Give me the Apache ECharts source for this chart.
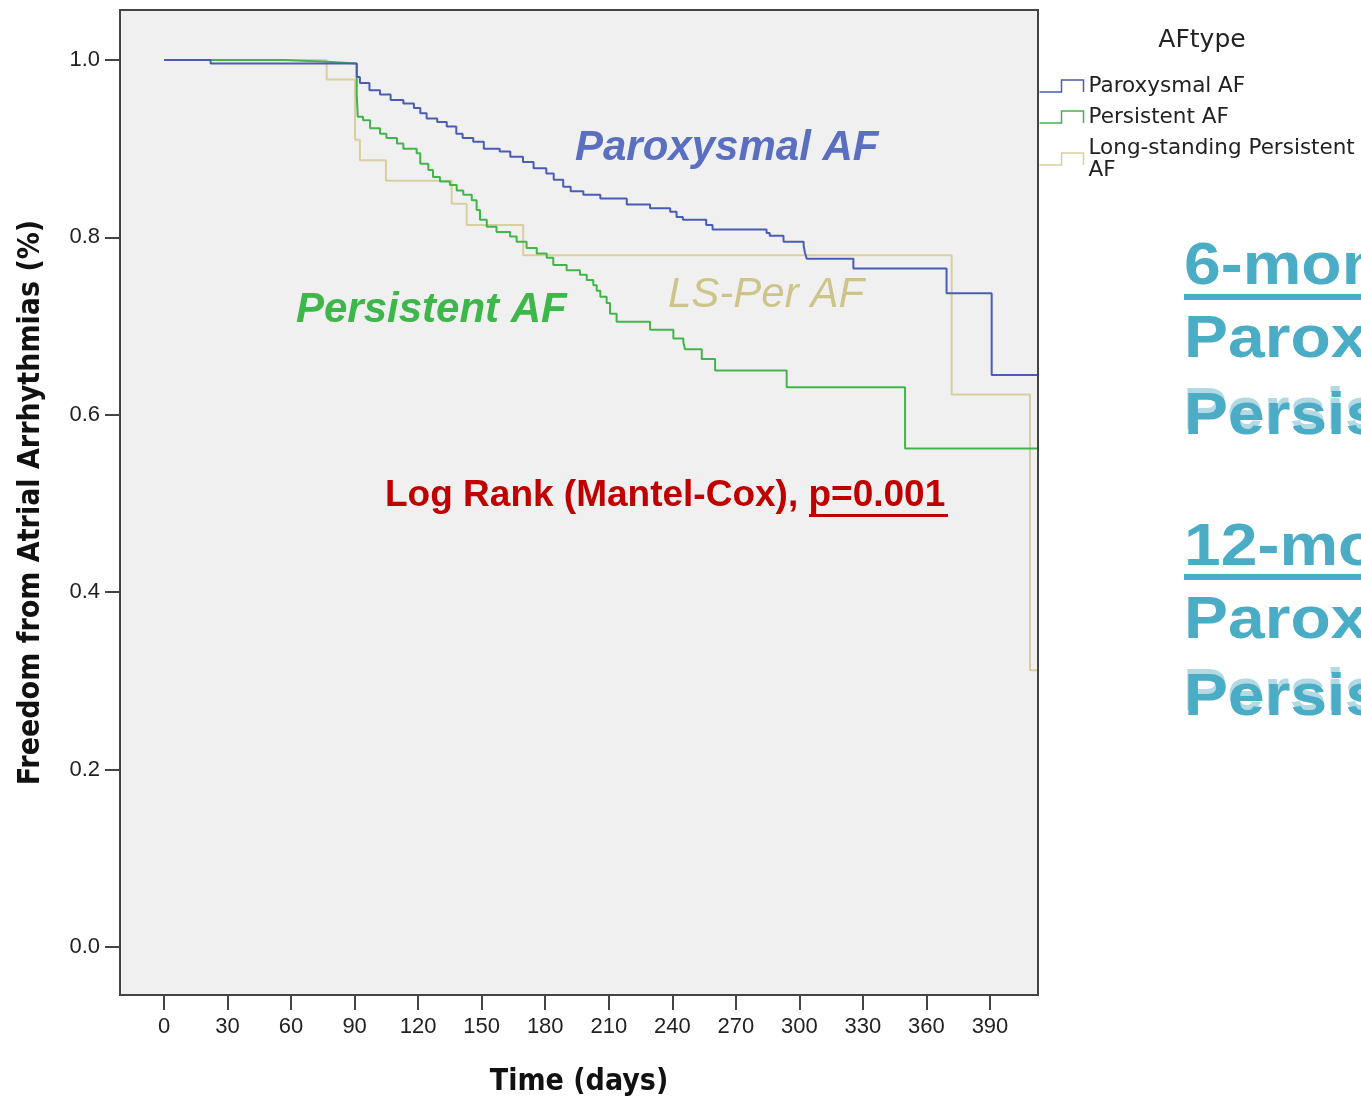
<!DOCTYPE html>
<html>
<head>
<meta charset="utf-8">
<script src="https://cdn.jsdelivr.net/npm/echarts@6/dist/echarts.min.js"></script>
<style>
html,body{margin:0;padding:0;background:#fff;}
#c{width:1361px;height:1097px;}
</style>
</head>
<body>
<div id="c"></div>
<script>
// ---- data ----
const seriesNames = ['Paroxysmal AF', 'Persistent AF', 'Long-standing Persistent AF'];
const xTicks = [0, 30, 60, 90, 120, 150, 180, 210, 240, 270, 300, 330, 360, 390];
const yTicks = [0, 0.2, 0.4, 0.6, 0.8, 1.0];

const parTime = [0,22,91,92.5,97,102,107,113,118,121,124,129,133.5,138,141,146,151,158.5,163.5,169.5,174.5,180.5,184,188.5,192,198,206,218.5,229.5,239,242,245,256,259,284.5,286,292.5,302,302.6,303.5,325.5,369.5,390.8,412.2];
const parSurv = [1,0.996,0.981,0.974,0.966,0.961,0.955,0.951,0.946,0.940,0.934,0.930,0.925,0.917,0.912,0.908,0.900,0.897,0.891,0.885,0.878,0.872,0.865,0.857,0.852,0.848,0.844,0.837,0.833,0.829,0.823,0.820,0.814,0.809,0.805,0.802,0.795,0.791,0.783,0.776,0.765,0.737,0.645,0.645];

const perTime = [0,57,77,91,91.5,94,97.3,102,105,110,113,119.3,121,124.8,127,130.3,135,138.2,141.3,145.3,147.6,149.2,152.4,157,163.4,166.5,171.2,176,180.7,183.8,190.1,196.4,199.6,202.7,204.3,206,209,210.6,213.7,229.5,240.5,245.2,246,253.9,260.2,294,349.9,412.2];
const perSurv = [1,0.998,0.996,0.96,0.936,0.932,0.923,0.917,0.912,0.906,0.900,0.895,0.883,0.876,0.868,0.863,0.859,0.853,0.848,0.842,0.831,0.820,0.812,0.806,0.801,0.795,0.788,0.782,0.777,0.769,0.763,0.758,0.752,0.746,0.740,0.733,0.726,0.714,0.705,0.696,0.686,0.682,0.674,0.663,0.650,0.631,0.562,0.562];

const lsTime = [0,76.8,90.2,92.5,104.8,135.8,142.9,169.6,371.9,408.9,412.2];
const lsSurv = [1,0.978,0.910,0.887,0.864,0.838,0.814,0.780,0.623,0.312,0.312];

// ---- styles ----
const colors = ['#4a5cb5', '#42b54a', '#d8cfa0'];
const zip = (t, s) => t.map((v, i) => [v, s[i]]);

const chart = echarts.init(document.getElementById('c'), null, {renderer: 'canvas'});

const condBold = "'DejaVu Sans Condensed', 'DejaVu Sans', sans-serif";
const arial = "'Liberation Sans', Arial, sans-serif";
const rightColor = '#4bacc6';
const rightFont = "bold 60px 'Liberation Sans', Arial, sans-serif";

function rightText(txt, y, shadow) {
  const items = [];
  if (shadow) {
    items.push({type: 'text', z: 49, x: 1183, y: y - 5, scaleX: 1.1,
      style: {text: txt, x: 0, y: 0, fill: '#b3d9e4', font: rightFont, verticalAlign: 'middle', align: 'left'}});
  }
  items.push({type: 'text', z: 50, x: 1184, y: y, scaleX: 1.1,
    style: {text: txt, x: 0, y: 0, fill: rightColor, font: rightFont, verticalAlign: 'middle', align: 'left'}});
  return items;
}

const option = {
  backgroundColor: '#ffffff',
  animation: false,
  grid: {
    left: 120, right: 323, top: 10, bottom: 102,
    show: true, backgroundColor: '#f0f0f0', borderColor: '#444', borderWidth: 2,
    containLabel: false, outerBoundsMode: 'none'
  },
  xAxis: {
    type: 'value', min: -20.78, max: 412.67,
    name: 'Time (days)', nameLocation: 'middle', nameGap: 72,
    nameTextStyle: {fontFamily: condBold, fontWeight: 'bold', fontSize: 30, color: '#111'},
    axisLine: {show: true, onZero: false, lineStyle: {color: '#444', width: 2}},
    axisTick: {show: true, length: 15, customValues: xTicks, lineStyle: {color: '#444', width: 2}},
    axisLabel: {customValues: xTicks, margin: 21, fontFamily: arial, fontSize: 22, color: '#222'},
    splitLine: {show: false}
  },
  yAxis: {
    type: 'value', min: -0.0541, max: 1.0564,
    name: 'Freedom from Atrial Arrhythmias (%)', nameLocation: 'middle', nameGap: 74,
    nameTextStyle: {fontFamily: condBold, fontWeight: 'bold', fontSize: 30, color: '#111'},
    axisLine: {show: true, onZero: false, lineStyle: {color: '#444', width: 2}},
    axisTick: {show: true, length: 15, customValues: yTicks, lineStyle: {color: '#444', width: 2}},
    axisLabel: {customValues: yTicks, margin: 20, fontFamily: arial, fontSize: 22, color: '#222',
      formatter: v => v.toFixed(1)},
    splitLine: {show: false}
  },
  legend: {
    orient: 'vertical', left: 1037, top: 75, padding: 0,
    itemWidth: 44, itemHeight: 12, itemGap: 9,
    selectedMode: false,
    icon: 'path://M0,12L22,12L22,0L44,0L44,12',
    textStyle: {fontFamily: "'DejaVu Sans', sans-serif", fontSize: 21.5, color: '#222', lineHeight: 22},
    formatter: n => n === 'Long-standing Persistent AF' ? 'Long-standing Persistent\nAF' : n,
    data: seriesNames.map((n, i) => ({
      name: n,
      itemStyle: {color: 'none', borderColor: colors[i], borderWidth: 1.5}
    }))
  },
  series: [
    {name: seriesNames[2], type: 'line', step: 'end', showSymbol: false, symbol: 'none',
      data: zip(lsTime, lsSurv), lineStyle: {color: colors[2], width: 2}, itemStyle: {color: colors[2]}, z: 2},
    {name: seriesNames[1], type: 'line', step: 'end', showSymbol: false, symbol: 'none',
      data: zip(perTime, perSurv), lineStyle: {color: colors[1], width: 2}, itemStyle: {color: colors[1]}, z: 3},
    {name: seriesNames[0], type: 'line', step: 'end', showSymbol: false, symbol: 'none',
      data: zip(parTime, parSurv), lineStyle: {color: colors[0], width: 2}, itemStyle: {color: colors[0]}, z: 4}
  ],
  graphic: [
    {type: 'text', z: 50, style: {text: 'AFtype', x: 1202, y: 40, align: 'center', verticalAlign: 'middle',
      font: "25px 'DejaVu Sans', sans-serif", fill: '#222'}},
    {type: 'text', z: 50, style: {text: 'Paroxysmal AF', x: 575, y: 148, verticalAlign: 'middle',
      font: "italic bold 42px 'Liberation Sans', Arial, sans-serif", fill: '#5a6fc0'}},
    {type: 'text', z: 50, style: {text: 'Persistent AF', x: 296, y: 310, verticalAlign: 'middle',
      font: "italic bold 42px 'Liberation Sans', Arial, sans-serif", fill: '#3db64a'}},
    {type: 'text', z: 50, style: {text: 'LS-Per AF', x: 668, y: 295, verticalAlign: 'middle',
      font: "italic 42px 'Liberation Sans', Arial, sans-serif", fill: '#cdc48a'}},
    {type: 'text', z: 50, style: {text: 'Log Rank (Mantel-Cox), p=0.001', x: 385, y: 496, verticalAlign: 'middle',
      font: "bold 37px 'Liberation Sans', Arial, sans-serif", fill: '#c00000'}},
    {type: 'line', z: 50, shape: {x1: 809, y1: 515.5, x2: 948, y2: 515.5}, style: {stroke: '#c00000', lineWidth: 3}},
    ...rightText('6-month', 267, false),
    {type: 'line', z: 50, shape: {x1: 1184, y1: 297, x2: 1361, y2: 297}, style: {stroke: rightColor, lineWidth: 6}},
    ...rightText('Paroxysmal', 340, false),
    ...rightText('Persistent', 417, true),
    ...rightText('12-month', 548, false),
    {type: 'line', z: 50, shape: {x1: 1184, y1: 577, x2: 1361, y2: 577}, style: {stroke: rightColor, lineWidth: 6}},
    ...rightText('Paroxysmal', 621, false),
    ...rightText('Persistent', 698, true)
  ]
};

chart.setOption(option);
</script>
</body>
</html>
